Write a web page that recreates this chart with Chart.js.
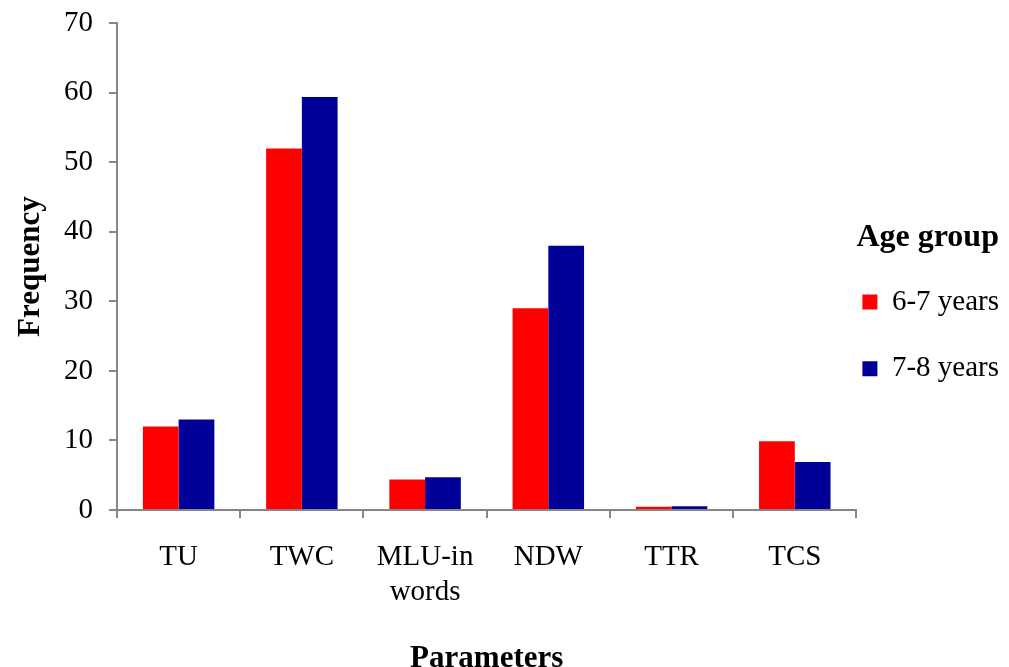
<!DOCTYPE html>
<html>
<head>
<meta charset="utf-8">
<script src="https://cdn.jsdelivr.net/npm/chart.js@4"></script>
<style>
  body { margin: 0; background: #fff; }
  #wrap { width: 1009px; height: 667px; }
</style>
</head>
<body>
<div id="wrap"><canvas id="myChart"></canvas></div>
<script>
const categories = ["TU", "TWC", ["MLU-in", "words"], "NDW", "TTR", "TCS"];
const seriesNames = ["6-7 years", "7-8 years"];
const age67 = [12, 52, 4.4, 29, 0.45, 9.9];
const age78 = [13, 59.4, 4.7, 38, 0.55, 6.9];
const yTicks = [0, 10, 20, 30, 40, 50, 60, 70];

const axisColor = "#868686";
const serif = "'Liberation Serif', 'Times New Roman', serif";

// legend items as one-line arrays so the line height sets the spacing
function legendLabels(chart) {
    const items = Chart.defaults.plugins.legend.labels.generateLabels(chart);
    items.forEach(it => { it.text = [it.text]; it.lineWidth = 0; });
    return items;
}

const config = {
    type: "bar",
    data: {
        labels: categories,
        datasets: [
            {
                label: seriesNames[0],
                data: age67,
                backgroundColor: "#ff0000",
                categoryPercentage: 0.58,
                barPercentage: 1
            },
            {
                label: seriesNames[1],
                data: age78,
                backgroundColor: "#000099",
                categoryPercentage: 0.58,
                barPercentage: 1
            }
        ]
    },
    options: {
        responsive: true,
        maintainAspectRatio: false,
        animation: false,
        layout: { padding: { top: 22, right: 0, left: 0, bottom: 0 } },
        plugins: {
            tooltip: { enabled: false },
            legend: {
                position: "right",
                align: "start",
                title: {
                    display: true,
                    text: "Age group",
                    color: "#000",
                    position: "start",
                    font: { family: serif, size: 32, weight: "bold", lineHeight: 1.2 },
                    padding: { top: 200, bottom: 21 }
                },
                labels: {
                    color: "#000",
                    boxWidth: 15,
                    boxHeight: 15,
                    padding: 6,
                    font: { family: serif, size: 29, lineHeight: 2.1 },
                    generateLabels: legendLabels
                }
            }
        },
        scales: {
            x: {
                grid: {
                    display: true,
                    drawOnChartArea: false,
                    drawTicks: true,
                    tickLength: 8,
                    color: axisColor,
                    lineWidth: 2
                },
                border: { color: axisColor, width: 2 },
                ticks: {
                    color: "#000",
                    padding: 22,
                    font: { family: serif, size: 29, lineHeight: 1.2 }
                },
                title: {
                    display: true,
                    text: "Parameters",
                    color: "#000",
                    font: { family: serif, size: 31, weight: "bold", lineHeight: 0.5 },
                    padding: { top: 0, bottom: 0 }
                },
                afterFit: (scale) => { scale.height = 157; }
            },
            y: {
                min: 0,
                max: 70,
                afterBuildTicks: (scale) => { scale.ticks = yTicks.map(v => ({ value: v })); },
                grid: {
                    display: true,
                    drawOnChartArea: false,
                    drawTicks: true,
                    tickLength: 8,
                    color: axisColor,
                    lineWidth: 2
                },
                border: { color: axisColor, width: 2 },
                ticks: {
                    color: "#000",
                    padding: 16,
                    font: { family: serif, size: 29, lineHeight: 0.5 }
                },
                title: {
                    display: true,
                    text: "Frequency",
                    color: "#000",
                    font: { family: serif, size: 31, weight: "bold", lineHeight: 1 },
                    padding: { top: 15, bottom: 0 }
                },
                afterFit: (scale) => { scale.width = 117; }
            }
        }
    }
};

new Chart(document.getElementById("myChart"), config);
</script>
</body>
</html>
